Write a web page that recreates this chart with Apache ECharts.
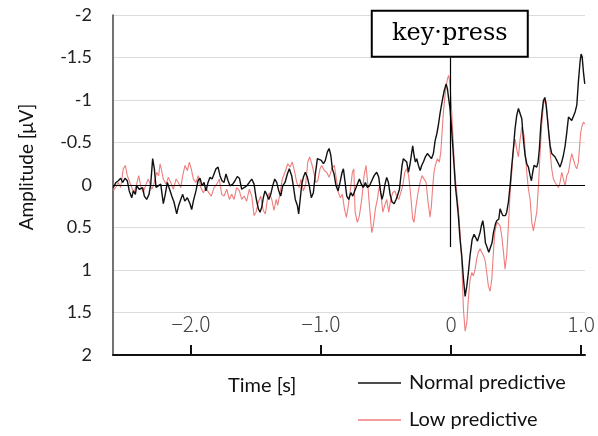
<!DOCTYPE html>
<html>
<head>
<meta charset="utf-8">
<script src="https://cdn.jsdelivr.net/npm/echarts@6/dist/echarts.min.js"></script>
<style>html,body{margin:0;padding:0;background:#fff;}#c{width:598px;height:436px;}</style>
</head>
<body>
<div id="c"></div>
<script>
// Time axis ticks (s) and amplitude ticks (µV)
const xTicks = [-2, -1, 0, 1];
const yMin = -2, yMax = 2, yStep = 0.5;
const seriesNames = ['Normal predictive', 'Low predictive'];
const keyPressTime = -0.01;

// Normal predictive: [time s, amplitude µV]
const normalData = [
[-2.598,0.03],[-2.577,-0.03],[-2.559,-0.05],[-2.541,-0.08],[-2.525,-0.03],[-2.508,-0.08],[-2.49,-0.05],[-2.475,0.07],[-2.456,0.15],[-2.444,0.07],[-2.428,0.11],[-2.418,0.01],[-2.398,0.05],[-2.387,0.07],[-2.372,0.03],[-2.359,0.13],[-2.341,0.17],[-2.323,0.11],[-2.31,-0.01],[-2.295,-0.31],[-2.282,-0.19],[-2.269,0.03],[-2.252,0.01],[-2.233,-0.01],[-2.213,0.22],[-2.198,0.11],[-2.182,-0.03],[-2.167,-0.01],[-2.148,0.13],[-2.131,0.2],[-2.11,0.34],[-2.095,0.24],[-2.079,0.17],[-2.064,0.11],[-2.048,0.19],[-2.028,0.15],[-2.008,0.22],[-1.995,0.29],[-1.982,0.19],[-1.962,0.07],[-1.946,-0.05],[-1.931,-0.08],[-1.915,0.01],[-1.9,-0.03],[-1.885,0.07],[-1.869,-0.03],[-1.854,-0.09],[-1.838,-0.07],[-1.823,-0.13],[-1.808,-0.19],[-1.792,-0.21],[-1.777,-0.11],[-1.762,-0.05],[-1.746,-0.03],[-1.731,-0.13],[-1.715,-0.05],[-1.7,0.01],
[-1.679,-0.01],[-1.662,-0.05],[-1.644,-0.1],[-1.628,-0.08],[-1.61,0.05],[-1.592,0.03],[-1.572,0.01],[-1.552,-0.03],[-1.533,-0.07],[-1.515,-0.01],[-1.5,0.15],[-1.482,0.28],[-1.469,0.32],[-1.456,0.26],[-1.444,0.15],[-1.431,0.07],[-1.418,0.11],[-1.402,0.17],[-1.387,0.11],[-1.372,0.01],[-1.356,-0.07],[-1.341,-0.03],[-1.325,0.07],[-1.31,0.13],[-1.295,0.01],[-1.277,-0.03],[-1.259,-0.13],[-1.244,-0.19],[-1.226,-0.11],[-1.213,0.01],[-1.198,0.17],[-1.182,0.24],[-1.172,0.34],[-1.162,0.19],[-1.148,-0.01],[-1.136,-0.09],[-1.121,-0.15],[-1.105,-0.09],[-1.09,0.01],[-1.075,0.15],[-1.059,0.09],[-1.044,-0.13],[-1.028,-0.31],[-1.013,-0.33],[-0.998,-0.29],[-0.982,-0.25],[-0.967,-0.29],[-0.951,-0.39],[-0.938,-0.43],[-0.925,-0.35],[-0.913,-0.19],[-0.9,-0.13],[-0.885,0.01],[-0.869,0.07],[-0.854,-0.03],[-0.838,-0.15],[-0.828,-0.19],[-0.815,-0.03],[-0.802,0.13],[-0.787,0.17],[-0.771,0.09],[-0.756,0.13],[-0.741,0.11],
[-0.721,-0.01],[-0.705,-0.07],[-0.69,-0.01],[-0.675,0.03],[-0.659,-0.03],[-0.644,0.03],[-0.628,0.01],[-0.61,-0.05],[-0.592,-0.11],[-0.572,-0.15],[-0.556,-0.09],[-0.541,0.09],[-0.531,0.17],[-0.521,0.11],[-0.508,-0.01],[-0.495,-0.09],[-0.482,-0.03],[-0.469,0.11],[-0.454,0.2],[-0.438,0.22],[-0.423,0.17],[-0.413,0.13],[-0.397,0.05],[-0.387,-0.09],[-0.377,-0.23],[-0.367,-0.31],[-0.354,-0.33],[-0.341,-0.27],[-0.328,-0.15],[-0.315,-0.25],[-0.302,-0.39],[-0.295,-0.46],[-0.285,-0.35],[-0.274,-0.27],[-0.264,-0.31],[-0.251,-0.23],[-0.238,-0.17],[-0.226,-0.23],[-0.213,-0.27],[-0.198,-0.33],[-0.182,-0.37],[-0.167,-0.35],[-0.151,-0.31],[-0.136,-0.37],[-0.123,-0.52],[-0.11,-0.6],[-0.098,-0.7],[-0.085,-0.84],[-0.069,-0.98],[-0.054,-1.1],[-0.038,-1.19],[-0.028,-1.13],[-0.018,-1.01],[-0.008,-0.9],[0.002,-0.7],[0.013,-0.46],[0.023,-0.23],[0.033,0.01],[0.044,0.17],[0.056,0.36],[0.069,0.64],[0.082,0.83],
[0.095,1.1],[0.108,1.31],[0.121,1.19],[0.133,1.03],[0.146,0.83],[0.162,0.64],[0.177,0.58],[0.192,0.6],[0.203,0.66],[0.213,0.64],[0.223,0.56],[0.233,0.48],[0.244,0.42],[0.254,0.52],[0.264,0.68],[0.274,0.72],[0.29,0.79],[0.305,0.77],[0.315,0.68],[0.326,0.56],[0.341,0.46],[0.351,0.42],[0.367,0.4],[0.377,0.28],[0.387,0.32],[0.398,0.36],[0.408,0.34],[0.418,0.36],[0.428,0.32],[0.441,0.2],[0.454,0.01],[0.467,-0.23],[0.479,-0.42],[0.492,-0.66],[0.505,-0.82],[0.518,-0.9],[0.531,-0.88],[0.544,-0.78],[0.556,-0.54],[0.569,-0.35],[0.582,-0.25],[0.595,-0.21],[0.608,-0.11],[0.618,-0.05],[0.628,-0.15],[0.638,-0.23],[0.649,-0.25],[0.659,-0.21],[0.669,-0.27],[0.679,-0.42],[0.69,-0.7],[0.7,-0.86],[0.71,-0.99],[0.721,-1.03],[0.731,-0.94],[0.741,-0.78],[0.751,-0.62],[0.762,-0.46],[0.774,-0.37],[0.787,-0.35],[0.8,-0.33],[0.813,-0.29],[0.826,-0.25],[0.838,-0.21],[0.851,-0.27],[0.864,-0.35],[0.877,-0.46],[0.89,-0.62],[0.903,-0.8],[0.915,-0.82],[0.928,-0.76],[0.941,-0.78],[0.954,-0.86],[0.967,-0.94],[0.979,-1.21],[0.992,-1.45],[1.0,-1.54],[1.008,-1.51],[1.018,-1.33],[1.028,-1.19]
];

// Low predictive: [time s, amplitude µV]
const lowData = [
[-2.598,0.07],[-2.577,0.02],[-2.559,-0.03],[-2.541,0.03],[-2.521,-0.19],[-2.505,-0.23],[-2.49,-0.11],[-2.475,-0.05],[-2.456,0.03],[-2.438,0.09],[-2.418,-0.01],[-2.402,-0.11],[-2.387,0.01],[-2.367,0.09],[-2.346,-0.01],[-2.328,-0.07],[-2.302,0.05],[-2.285,-0.01],[-2.264,-0.15],[-2.249,-0.11],[-2.238,-0.25],[-2.226,-0.17],[-2.213,-0.07],[-2.192,-0.01],[-2.175,-0.09],[-2.156,-0.03],[-2.136,0.05],[-2.115,-0.07],[-2.098,-0.03],[-2.079,0.03],[-2.064,-0.11],[-2.046,-0.23],[-2.028,-0.17],[-2.013,-0.27],[-1.998,-0.19],[-1.982,-0.07],[-1.962,-0.03],[-1.944,-0.11],[-1.925,0.03],[-1.905,0.09],[-1.885,0.03],[-1.864,0.09],[-1.844,0.13],[-1.823,0.03],[-1.802,-0.01],[-1.782,-0.07],[-1.764,0.11],[-1.746,0.13],[-1.725,0.05],[-1.705,0.17],[-1.687,0.11],[-1.669,0.17],[-1.649,0.03],[-1.628,0.07],[-1.61,0.17],[-1.592,0.13],[-1.572,0.19],[-1.552,0.05],[-1.533,0.13],[-1.515,0.36],[-1.5,0.32],[-1.482,0.2],[-1.464,0.13],[-1.444,0.3],[-1.428,0.34],[-1.413,0.17],[-1.398,0.09],[-1.379,0.17],[-1.362,0.3],[-1.345,0.17],[-1.333,0.24],[-1.315,0.09],
[-1.298,-0.07],[-1.277,-0.15],[-1.256,-0.25],[-1.238,-0.21],[-1.221,-0.27],[-1.205,-0.17],[-1.187,-0.03],[-1.169,0.03],[-1.154,-0.07],[-1.136,0.07],[-1.118,-0.01],[-1.102,-0.27],[-1.087,-0.33],[-1.072,-0.25],[-1.056,-0.15],[-1.041,-0.03],[-1.025,-0.05],[-1.008,-0.19],[-0.995,-0.23],[-0.975,-0.17],[-0.956,-0.15],[-0.938,-0.09],[-0.918,-0.19],[-0.898,-0.23],[-0.882,-0.07],[-0.867,0.09],[-0.851,0.15],[-0.836,0.11],[-0.82,0.28],[-0.805,0.38],[-0.79,0.24],[-0.774,0.05],[-0.759,-0.15],[-0.748,-0.19],
[-0.738,0.32],[-0.721,0.44],[-0.705,0.36],[-0.687,0.17],[-0.669,-0.11],[-0.654,-0.23],[-0.644,-0.07],[-0.628,0.24],[-0.61,0.56],[-0.598,0.48],[-0.582,0.28],[-0.567,0.17],[-0.551,0.01],[-0.541,0.09],[-0.525,0.32],[-0.51,0.24],[-0.495,0.17],[-0.479,0.32],[-0.464,0.17],[-0.449,0.09],[-0.433,0.07],[-0.418,0.13],[-0.402,0.17],[-0.387,0.09],[-0.372,0.01],[-0.356,-0.15],[-0.341,-0.19],[-0.326,-0.11],[-0.31,0.13],[-0.295,0.4],[-0.285,0.44],[-0.269,0.24],[-0.254,0.09],[-0.238,-0.03],[-0.223,-0.11],[-0.208,-0.13],[-0.192,-0.03],[-0.177,0.2],[-0.162,0.38],[-0.151,0.24],[-0.141,0.01],[-0.131,-0.15],[-0.121,-0.23],[-0.105,-0.31],[-0.09,-0.27],[-0.079,-0.39],[-0.069,-0.62],[-0.059,-0.86],[-0.044,-1.09],[-0.028,-1.25],[-0.018,-1.29],[-0.008,-1.17],[0.002,-0.94],[0.013,-0.62],[0.023,-0.31],[0.033,-0.07],[0.044,0.09],[0.056,0.28],[0.069,0.56],[0.082,0.9],
[0.095,1.46],[0.108,1.72],[0.121,1.62],[0.133,1.34],[0.146,1.11],[0.159,1.03],[0.172,1.07],[0.185,0.99],[0.197,0.87],[0.21,0.79],[0.223,0.75],[0.236,0.79],[0.249,0.83],[0.262,0.89],[0.274,1.03],[0.287,1.19],[0.3,1.25],[0.313,1.11],[0.326,0.79],[0.336,0.56],[0.346,0.48],[0.356,0.44],[0.367,0.44],[0.377,0.48],[0.39,0.6],[0.403,0.79],[0.415,0.99],[0.428,0.83],[0.441,0.48],[0.454,0.09],[0.467,-0.15],[0.479,-0.42],[0.492,-0.54],[0.505,-0.42],[0.518,-0.33],[0.531,-0.54],[0.544,-0.68],[0.551,-0.7],[0.562,-0.58],[0.569,-0.42],[0.582,-0.15],[0.595,0.05],[0.608,0.17],[0.621,0.44],[0.633,0.54],[0.646,0.52],[0.659,0.32],[0.672,0.01],[0.685,-0.39],[0.697,-0.7],[0.71,-0.94],[0.721,-1.01],[0.731,-0.98],[0.741,-0.82],[0.751,-0.62],[0.762,-0.39],[0.774,-0.19],[0.787,-0.07],[0.8,-0.03],[0.813,-0.01],[0.826,0.03],[0.838,-0.03],[0.851,-0.15],[0.864,-0.07],[0.877,0.01],[0.89,-0.11],[0.903,-0.15],[0.915,-0.27],[0.928,-0.37],[0.941,-0.3],[0.954,-0.23],[0.967,-0.19],[0.979,-0.27],[0.987,-0.42],[0.997,-0.62],[1.008,-0.7],[1.018,-0.74],[1.028,-0.72]
];

const chart = echarts.init(document.getElementById('c'), null, {renderer: 'canvas'});
const fmtX = v => v === 0 ? '0' : (v < 0 ? '\u2212' + Math.abs(v).toFixed(1) : v.toFixed(1));

chart.setOption({
  animation: false,
  backgroundColor: '#ffffff',
  grid: {left: 113, right: 13, top: 15, bottom: 81, containLabel: false},
  title: {
    text: 'Time [s]', left: 228, top: 376, padding: 0,
    textStyle: {fontFamily: 'Lato', fontSize: 20, fontWeight: 'normal', color: '#111'}
  },
  graphic: [{
    type: 'text', x: 27, y: 167, rotation: Math.PI / 2,
    style: {text: 'Amplitude [\u03bcV]', font: '19px Lato', fill: '#111', align: 'center', verticalAlign: 'middle'}
  }],
  legend: {
    data: seriesNames,
    orient: 'vertical', left: 358, top: 372, padding: 0,
    icon: 'rect', itemWidth: 43, itemHeight: 1.4, itemGap: 15,
    textStyle: {fontFamily: 'Lato', fontSize: 20, lineHeight: 22, color: '#111', padding: [0, 0, 0, 3]}
  },
  xAxis: {
    type: 'value', min: -2.6, max: 1.03,
    axisLine: {onZero: false, lineStyle: {color: '#111', width: 2}},
    axisTick: {show: true, inside: true, length: 10, customValues: xTicks, lineStyle: {color: '#111', width: 2}},
    axisLabel: {show: true, inside: true, margin: 20, customValues: xTicks, formatter: fmtX,
      fontFamily: 'Noto Sans CJK KR', fontWeight: 300, fontSize: 21, color: '#444'},
    splitLine: {show: false}
  },
  yAxis: {
    type: 'value', inverse: true, min: yMin, max: yMax, interval: yStep,
    axisLine: {show: true, onZero: false, lineStyle: {color: '#444', width: 1.5}},
    axisTick: {show: false},
    axisLabel: {margin: 21, fontFamily: 'Lato', fontSize: 18, color: '#222', formatter: v => String(v)},
    splitLine: {show: true, lineStyle: {color: '#dcdcdc', width: 1}}
  },
  series: [
    {
      name: seriesNames[0], type: 'line', data: normalData, symbol: 'none', z: 4,
      lineStyle: {color: '#111', width: 1.4}, itemStyle: {color: '#111'},
      markLine: {
        silent: true, symbol: 'none', label: {show: false},
        lineStyle: {color: '#000', width: 1.2, type: 'solid'},
        data: [
          {yAxis: 0},
          [{coord: [keyPressTime, -1.5]}, {coord: [keyPressTime, 0.73]}]
        ]
      },
      markPoint: {
        silent: true,
        data: [{coord: [keyPressTime, -1.78], symbol: 'rect', symbolSize: 1,
          itemStyle: {color: 'rgba(0,0,0,0)'},
          label: {show: true, position: 'inside', formatter: 'key\u00b7press',
            fontFamily: 'DejaVu Serif', fontSize: 24, color: '#000',
            backgroundColor: '#fff', borderColor: '#000', borderWidth: 2,
            width: 154, height: 44, lineHeight: 44, align: 'center', verticalAlign: 'middle', padding: 0}}]
      }
    },
    {
      name: seriesNames[1], type: 'line', data: lowData, symbol: 'none', z: 3,
      lineStyle: {color: '#ef7d7d', width: 1.1}, itemStyle: {color: '#ef7d7d'}
    }
  ]
});
</script>
</body>
</html>
